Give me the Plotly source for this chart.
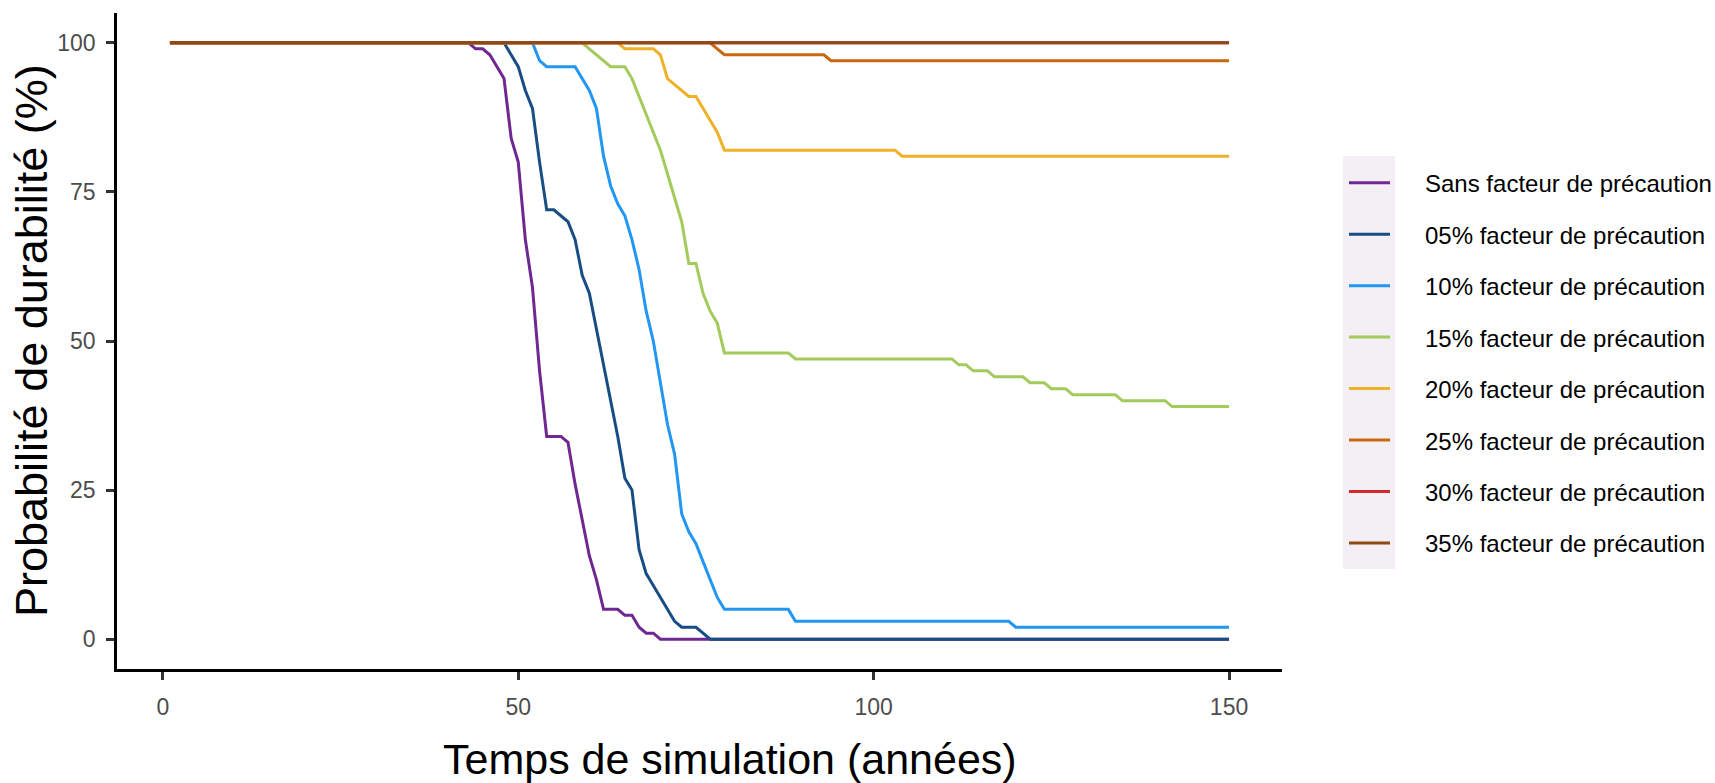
import plotly.graph_objects as go

# ---- data ----
series_names = [
    "Sans facteur de précaution",
    "05% facteur de précaution",
    "10% facteur de précaution",
    "15% facteur de précaution",
    "20% facteur de précaution",
    "25% facteur de précaution",
    "30% facteur de précaution",
    "35% facteur de précaution",
]
series_colors = ["#6F2791", "#184D84", "#2196F3", "#A2CB5B",
                 "#EFB12A", "#C8680F", "#D12A2A", "#8B4A16"]

x_sans = [1, 43, 44, 45, 46, 47, 48, 49, 50, 51, 52, 53, 54, 55, 56, 57, 58, 59, 60,
          61, 62, 63, 64, 65, 66, 67, 68, 69, 70, 150]
y_sans = [100, 100, 99, 99, 98, 96, 94, 84, 80, 67, 59, 45, 34, 34, 34, 33, 26, 20, 14,
          10, 5, 5, 5, 4, 4, 2, 1, 1, 0, 0]

x_05 = [1, 48, 49, 50, 51, 52, 53, 54, 55, 56, 57, 58, 59, 60, 61, 62, 63, 64, 65,
        66, 67, 68, 69, 70, 71, 72, 73, 74, 75, 76, 77, 150]
y_05 = [100, 100, 98, 96, 92, 89, 80, 72, 72, 71, 70, 67, 61, 58, 52, 46, 40, 34, 27,
        25, 15, 11, 9, 7, 5, 3, 2, 2, 2, 1, 0, 0]

x_10 = [1, 52, 53, 54, 58, 59, 60, 61, 62, 63, 64, 65, 66, 67, 68, 69, 70, 71, 72,
        73, 74, 75, 76, 77, 78, 79, 88, 89, 119, 120, 150]
y_10 = [100, 100, 97, 96, 96, 94, 92, 89, 81, 76, 73, 71, 67, 62, 55, 50, 43, 36, 31,
        21, 18, 16, 13, 10, 7, 5, 5, 3, 3, 2, 2]

x_15 = [1, 59, 60, 61, 62, 63, 65, 66, 67, 68, 69, 70, 71, 72, 73, 74, 75, 76, 77,
        78, 79, 88, 89, 111, 112, 113, 114, 116, 117, 121, 122, 124, 125, 127, 128,
        134, 135, 141, 142, 150]
y_15 = [100, 100, 99, 98, 97, 96, 96, 94, 91, 88, 85, 82, 78, 74, 70, 63, 63, 58, 55,
        53, 48, 48, 47, 47, 46, 46, 45, 45, 44, 44, 43, 43, 42, 42, 41,
        41, 40, 40, 39, 39]

x_20 = [1, 64, 65, 69, 70, 71, 72, 73, 74, 75, 76, 77, 78, 79, 103, 104, 150]
y_20 = [100, 100, 99, 99, 98, 94, 93, 92, 91, 91, 89, 87, 85, 82, 82, 81, 81]

x_25 = [1, 77, 78, 79, 93, 94, 150]
y_25 = [100, 100, 99, 98, 98, 97, 97]

x_30 = [1, 150]
y_30 = [100, 100]

x_35 = [1, 150]
y_35 = [100, 100]

xs = [x_sans, x_05, x_10, x_15, x_20, x_25, x_30, x_35]
ys = [y_sans, y_05, y_10, y_15, y_20, y_25, y_30, y_35]

x_ticks = [0, 50, 100, 150]
y_ticks = [0, 25, 50, 75, 100]

x_title = "Temps de simulation (années)"
y_title = "Probabilité de durabilité (%)"

# ---- figure ----
W, H = 1715, 783
ML, MR, MT, MB = 117, 433, 13, 114
PW, PH = W - ML - MR, H - MT - MB


def px_to_paper_x(px):
    return (px - ML) / PW


def px_to_paper_y(py):
    return (H - MB - py) / PH


FONT = "Arial, Liberation Sans, sans-serif"

fig = go.Figure()
for name, color, xv, yv in zip(series_names, series_colors, xs, ys):
    fig.add_trace(go.Scatter(x=xv, y=yv, mode="lines", name=name,
                             line=dict(color=color, width=3), showlegend=False))

axis_common = dict(showgrid=False, zeroline=False, showline=True, linecolor="black",
                   linewidth=2.5, ticks="outside", ticklen=8, tickwidth=2.5,
                   tickcolor="#333333",
                   tickfont=dict(family=FONT, size=23, color="#4D4D4D"))

fig.update_layout(
    width=W, height=H,
    margin=dict(l=ML, r=MR, t=MT, b=MB, pad=0),
    paper_bgcolor="white", plot_bgcolor="white",
    xaxis=dict(range=[-6.45, 157.45], tickvals=x_ticks, ticklabelstandoff=8,
               **axis_common),
    yaxis=dict(range=[-5, 105], tickvals=y_ticks, ticklabelstandoff=6,
               **axis_common),
    showlegend=False,
)

# axis titles
fig.add_annotation(text=x_title, xref="paper", yref="paper",
                   x=px_to_paper_x(729.5), y=px_to_paper_y(758.5),
                   xanchor="center", yanchor="middle", showarrow=False,
                   font=dict(family=FONT, size=43, color="black"))
fig.add_annotation(text=y_title, xref="paper", yref="paper",
                   x=px_to_paper_x(31), y=px_to_paper_y(341),
                   xanchor="center", yanchor="middle", showarrow=False,
                   textangle=-90,
                   font=dict(family=FONT, size=45, color="black"))

# legend (drawn like ggplot's: key column with light background)
fig.add_shape(type="rect", xref="paper", yref="paper",
              x0=px_to_paper_x(1343), x1=px_to_paper_x(1395),
              y0=px_to_paper_y(569), y1=px_to_paper_y(156),
              fillcolor="#F4EFF4", line=dict(width=0), layer="below")
row0, row_step = 182.7, 51.47
for i, (name, color) in enumerate(zip(series_names, series_colors)):
    yy = px_to_paper_y(row0 + i * row_step)
    fig.add_shape(type="line", xref="paper", yref="paper",
                  x0=px_to_paper_x(1349), x1=px_to_paper_x(1390), y0=yy, y1=yy,
                  line=dict(color=color, width=3))
    fig.add_annotation(text=name, xref="paper", yref="paper",
                       x=px_to_paper_x(1423), y=px_to_paper_y(row0 + i * row_step + 1),
                       xanchor="left", yanchor="middle", showarrow=False,
                       font=dict(family=FONT, size=24, color="black"))

fig.write_html("out.html")
